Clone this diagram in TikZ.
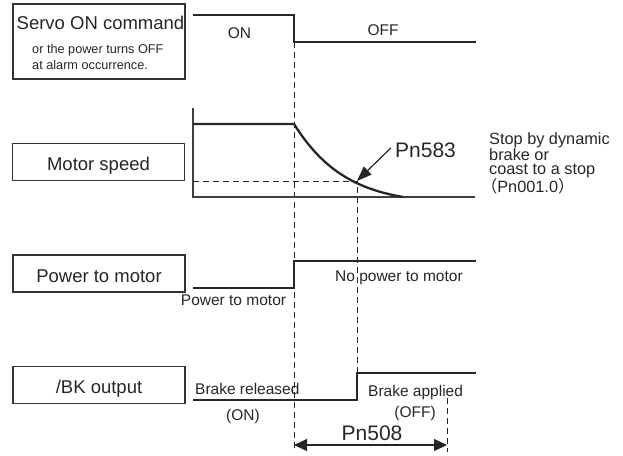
\documentclass[tikz,border=0pt]{standalone}
\usepackage{fontspec}
\setmainfont{Liberation Sans}
\newfontfamily\cjkfont{Noto Sans CJK JP}
\usetikzlibrary{arrows.meta,positioning}
\newcommand{\boxfont}{\fontsize{18.5}{20}\selectfont}
\newcommand{\pnfont}{\fontsize{21}{23}\selectfont}
\newcommand{\tagfont}{\fontsize{15.5}{17}\selectfont}
\newcommand{\subfont}{\fontsize{12.7}{15.5}\selectfont}
\newcommand{\notefont}{\fontsize{16.3}{13.8}\selectfont}

\begin{document}
\begin{tikzpicture}[x=1pt,y=-1pt,
  sigbox/.style={rectangle,draw=black!80,line width=1.1pt,minimum width=172pt,minimum height=37pt,inner sep=0pt,text height=17pt,text depth=0pt,font=\boxfont,text=black!85},
  tag/.style={inner sep=0pt,font=\tagfont,text=black!85},
  signal/.style={line width=2.6pt,draw=black!85,line join=miter},
  axis/.style={line width=1.3pt,draw=black!75},
  guide/.style={line width=0.9pt,draw=black!85,dash pattern=on 6pt off 4pt},
  pointer/.style={-{Triangle[length=15pt,width=11pt]},line width=1.2pt,draw=black!85},
  span/.style={{Triangle[length=13pt,width=12pt]}-{Triangle[length=13pt,width=12pt]},line width=1.2pt,draw=black!85}]
  \useasboundingbox (0,0) rectangle (623,455);
  % left-hand boxes
  \node[sigbox,minimum height=75pt] (servo) at (99,41.5) {};
  \node[tag,font=\boxfont,anchor=base] (servotxt) at (100.5,29) {Servo ON command};
  \node[tag,font=\subfont,anchor=base west] (alarm1) at (32,53.5) {or the power turns OFF};
  \node[tag,font=\subfont,anchor=base west] (alarm2) at (32,69) {at alarm occurrence.};
  \node[sigbox] (motor) at (98.5,162) {Motor speed};
  \node[sigbox] (power) at (99,273.5) {Power to motor};
  \node[sigbox] (bk) at (99,385) {/BK output};
  % timing guides
  \draw[guide] (294,42) -- (294,452);
  \draw[guide] (193,181) -- (357,181) -- (357,373);
  \draw[guide] (447,398) -- (447,452);
  % servo command
  \draw[signal] (193,15) -- (294,15) -- (294,42) -- (476,42);
  \node[tag,anchor=base] (on) at (239.5,38) {ON};
  \node[tag,anchor=base] (off) at (383,35) {OFF};
  % motor speed
  \draw[axis] (193,108) -- (193,197) -- (475,197);
  \draw[signal,line width=2.3pt] (193,124) -- (294,124) .. controls (320,165) and (350,188) .. (403,197);
  \coordinate (knee) at (357,181);
  \node[tag,font=\pnfont,anchor=base west] (pn583) at (395,157) {Pn583};
  \draw[pointer] ([xshift=-4pt,yshift=2pt]pn583.west) -- (knee);
  \node[tag,font=\notefont,anchor=north west,align=left] (stopnote) at (489,132)
    {Stop by dynamic\\brake or\\coast to a stop\\\hspace*{-0.5em}{\cjkfont （}Pn001.0{\cjkfont ）}};
  % power to motor
  \draw[signal] (193,288) -- (294,288) -- (294,261) -- (476,261);
  \node[tag,anchor=base] (pwron) at (233.5,305) {Power to motor};
  \node[tag,anchor=base west] (pwroff) at (335,281) {No power to motor};
  % brake output
  \draw[signal] (193,400) -- (357,400) -- (357,373) -- (476,373);
  \node[tag,anchor=base west] (released) at (195,394) {Brake released};
  \node[tag,anchor=base] (relon) at (243,420) {(ON)};
  \node[tag,anchor=base west] (applied) at (368,396) {Brake applied};
  \node[tag,anchor=base] (appoff) at (415,417) {(OFF)};
  % brake delay
  \coordinate (offT) at (294,445);
  \coordinate (brkT) at (447,445);
  \draw[span] (offT) -- (brkT);
  \node[tag,font=\pnfont,anchor=base] (pn508) at (372,440) {Pn508};
\end{tikzpicture}
\end{document}
